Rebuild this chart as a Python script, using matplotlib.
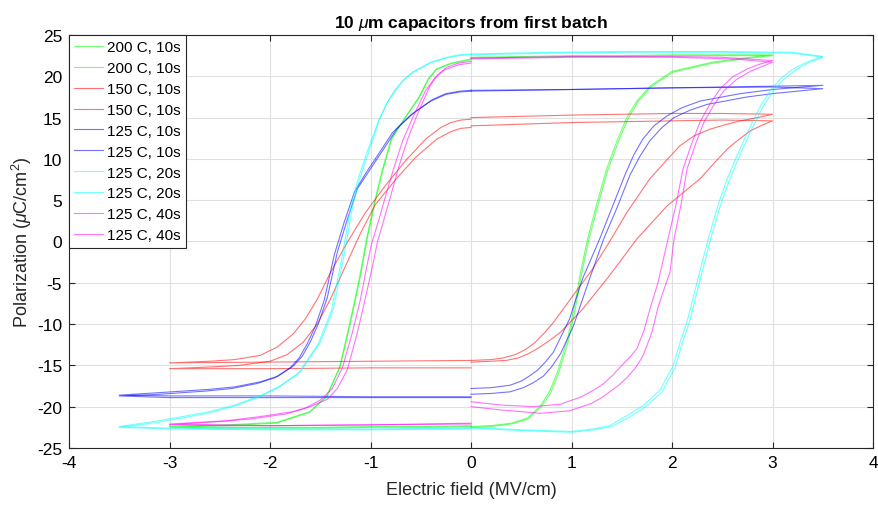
import numpy as np
import matplotlib
matplotlib.use("Agg")
import matplotlib.pyplot as plt

nan = np.nan

# each loop: positive half (0 -> Emax -> 0), nan, negative half (0 -> -Emax -> 0)
# 200 C, 10s
g1_E = [0, 0.2, 0.4, 0.56, 0.69, 0.78, 0.86, 0.96, 1.03, 1.09, 1.16, 1.25, 1.35, 1.46, 1.55, 1.65, 1.78, 2.0, 2.4, 2.7, 3.0,
        2.5, 2.0, 1.5, 1.0, 0.5, 0, nan,
        0, -0.2, -0.34, -0.42, -0.51, -0.71, -0.79, -0.88, -0.95, -1.03, -1.10, -1.17, -1.24, -1.30, -1.43, -1.6, -1.93, -2.43, -3.0,
        -2.5, -2.0, -1.5, -1.0, -0.5, 0]
g1_P = [-22.4, -22.3, -22.0, -21.4, -19.9, -18.2, -15.8, -11.8, -7.8, -3.7, 0.3, 4.5, 8.8, 12.4, 15.0, 17.0, 18.8, 20.6, 21.7, 22.2, 22.6,
        22.6, 22.6, 22.5, 22.5, 22.4, 22.3, nan,
        22.1, 21.6, 20.9, 19.7, 17.6, 14.0, 12.4, 8.5, 5.0, 0.5, -4.2, -8.2, -12.0, -15.1, -18.7, -20.6, -21.9, -22.2, -22.4,
        -22.5, -22.5, -22.5, -22.4, -22.4, -22.3]
g2_E = [0, 0.2, 0.4, 0.57, 0.70, 0.79, 0.87, 0.97, 1.04, 1.10, 1.17, 1.26, 1.36, 1.47, 1.56, 1.66, 1.79, 2.01, 2.41, 2.71, 3.0,
        2.5, 2.0, 1.5, 1.0, 0.5, 0, nan,
        0, -0.2, -0.35, -0.43, -0.52, -0.72, -0.80, -0.89, -0.96, -1.04, -1.11, -1.18, -1.25, -1.31, -1.44, -1.61, -1.94, -2.44, -3.0,
        -2.5, -2.0, -1.5, -1.0, -0.5, 0]
g2_P = [-22.5, -22.4, -22.1, -21.5, -20.0, -18.4, -16.0, -12.0, -8.0, -3.9, 0.1, 4.3, 8.6, 12.2, 14.8, 16.9, 18.7, 20.5, 21.6, 22.1, 22.5,
        22.5, 22.5, 22.4, 22.4, 22.3, 22.2, nan,
        22.0, 21.5, 20.8, 19.6, 17.4, 13.8, 12.2, 8.3, 4.8, 0.3, -4.4, -8.4, -12.2, -15.3, -18.8, -20.7, -22.0, -22.3, -22.5,
        -22.6, -22.6, -22.6, -22.5, -22.5, -22.4]

# 150 C, 10s
r1_E = [0, 0.2, 0.32, 0.44, 0.54, 0.63, 0.72, 0.82, 1.0, 1.2, 1.38, 1.55, 1.78, 1.95, 2.08, 2.22, 2.38, 2.52, 2.68, 2.85, 3.0,
        2.5, 2.0, 1.0, 0, nan,
        0, -0.1, -0.2, -0.3, -0.45, -0.65, -0.85, -1.05, -1.25, -1.4, -1.53, -1.65, -1.77, -1.93, -2.10, -2.35, -2.60, -3.0,
        -2.0, -1.0, 0]
r1_P = [-14.4, -14.3, -14.1, -13.7, -13.1, -12.3, -11.2, -9.8, -6.8, -3.5, 0.0, 3.5, 7.6, 9.9, 11.6, 12.8, 13.6, 14.1, 14.6, 15.0, 15.4,
        15.5, 15.5, 15.3, 15.0, nan,
        14.8, 14.7, 14.4, 13.8, 12.4, 9.8, 6.8, 3.5, -0.5, -3.8, -7.0, -9.4, -11.2, -12.8, -13.8, -14.3, -14.5, -14.7,
        -14.6, -14.5, -14.4]
r2_E = [0, 0.2, 0.35, 0.47, 0.57, 0.67, 0.78, 0.89, 1.11, 1.38, 1.65, 1.95, 2.12, 2.28, 2.42, 2.55, 2.67, 2.78, 2.9, 3.0,
        2.5, 2.0, 1.0, 0, nan,
        0, -0.1, -0.2, -0.34, -0.55, -0.75, -0.95, -1.1, -1.25, -1.40, -1.53, -1.67, -1.83, -2.0, -2.3, -2.6, -3.0,
        -2.0, -1.0, 0]
r2_P = [-14.6, -14.5, -14.4, -14.1, -13.6, -12.9, -12.0, -11.0, -8.2, -4.1, 0.3, 4.3, 6.0, 7.6, 9.5, 11.2, 12.4, 13.4, 14.1, 14.6,
        14.7, 14.6, 14.4, 14.0, nan,
        13.8, 13.7, 13.3, 12.4, 10.2, 7.5, 4.5, 1.0, -3.0, -7.0, -10.0, -12.2, -13.7, -14.5, -15.0, -15.2, -15.4,
        -15.4, -15.3, -15.3]

# 125 C, 10s
b1_E = [0, 0.2, 0.39, 0.5, 0.58, 0.66, 0.74, 0.82, 0.98, 1.11, 1.28, 1.40, 1.53, 1.62, 1.71, 1.82, 1.95, 2.1, 2.28, 2.68, 3.0, 3.5,
        3.0, 2.0, 1.0, 0, nan,
        0, -0.11, -0.25, -0.38, -0.57, -0.74, -0.88, -1.0, -1.13, -1.23, -1.33, -1.43, -1.52, -1.60, -1.68, -1.77, -1.92, -2.10, -2.35, -2.60, -3.10, -3.5,
        -3.0, -2.0, -1.0, 0]
b1_P = [-17.8, -17.7, -17.4, -16.9, -16.3, -15.6, -14.6, -13.4, -9.4, -4.5, 0.3, 4.0, 8.0, 10.5, 12.4, 14.0, 15.2, 16.2, 17.0, 17.9, 18.4, 18.9,
        18.8, 18.6, 18.4, 18.3, nan,
        18.3, 18.2, 17.9, 17.2, 15.6, 13.6, 11.0, 8.8, 6.4, 2.7, -1.3, -6.8, -10.0, -12.2, -13.9, -15.1, -16.3, -17.0, -17.6, -17.9, -18.3, -18.6,
        -18.7, -18.7, -18.8, -18.8]
b2_E = [0, 0.2, 0.39, 0.52, 0.62, 0.72, 0.80, 0.89, 1.02, 1.18, 1.32, 1.45, 1.58, 1.68, 1.78, 1.90, 2.02, 2.18, 2.35, 2.75, 3.0, 3.5,
        3.0, 2.0, 1.0, 0, nan,
        0, -0.11, -0.25, -0.40, -0.60, -0.78, -0.92, -1.04, -1.16, -1.26, -1.36, -1.46, -1.55, -1.63, -1.71, -1.80, -1.95, -2.13, -2.38, -2.63, -3.10, -3.5,
        -3.0, -2.0, -1.0, 0]
b2_P = [-18.5, -18.4, -18.2, -17.7, -17.1, -16.3, -15.2, -13.6, -10.2, -4.5, 0.3, 4.0, 8.0, 10.3, 12.2, 13.8, 15.0, 15.9, 16.6, 17.5, 17.9, 18.5,
        18.7, 18.6, 18.4, 18.2, nan,
        18.2, 18.1, 17.8, 17.0, 15.3, 13.2, 10.6, 8.4, 6.0, 2.4, -1.6, -7.1, -10.3, -12.4, -14.1, -15.3, -16.5, -17.2, -17.8, -18.1, -18.5, -18.7,
        -18.9, -18.9, -18.9, -18.9]

# 125 C, 20s
c1_E = [0, 0.5, 1.0, 1.21, 1.38, 1.55, 1.72, 1.88, 2.01, 2.08, 2.15, 2.25, 2.36, 2.46, 2.55, 2.65, 2.75, 2.88, 2.98, 3.08, 3.17, 3.27, 3.38, 3.5,
        3.2, 2.5, 1.5, 0.8, 0, nan,
        0, -0.12, -0.24, -0.4, -0.58, -0.67, -0.75, -0.83, -0.91, -1.0, -1.10, -1.17, -1.27, -1.37, -1.50, -1.70, -1.90, -2.10, -2.35, -2.60, -3.10, -3.5,
        -3.0, -2.0, -1.0, 0]
c1_P = [-22.5, -22.8, -23.0, -22.7, -22.3, -21.1, -19.8, -18.0, -15.1, -12.2, -9.7, -4.9, 0.3, 4.5, 7.6, 10.5, 13.2, 16.4, 18.3, 19.7, 20.6, 21.3, 21.9, 22.4,
        22.9, 23.0, 23.0, 22.9, 22.7, nan,
        22.7, 22.6, 22.3, 21.7, 20.5, 19.6, 18.4, 16.9, 14.8, 11.5, 7.9, 4.8, -2.1, -8.2, -12.2, -15.8, -17.5, -18.7, -19.8, -20.6, -21.7, -22.4,
        -22.6, -22.7, -22.7, -22.6]
c2_E = [0, 0.5, 1.0, 1.23, 1.40, 1.57, 1.74, 1.90, 2.03, 2.10, 2.17, 2.27, 2.38, 2.48, 2.57, 2.67, 2.77, 2.90, 3.00, 3.10, 3.19, 3.29, 3.39, 3.5,
        3.2, 2.5, 1.5, 0.8, 0, nan,
        0, -0.12, -0.25, -0.41, -0.59, -0.68, -0.76, -0.84, -0.92, -1.02, -1.12, -1.19, -1.29, -1.39, -1.52, -1.72, -1.92, -2.12, -2.37, -2.62, -3.12, -3.5,
        -3.0, -2.0, -1.0, 0]
c2_P = [-22.6, -22.9, -23.1, -22.8, -22.4, -21.3, -20.0, -18.2, -15.3, -12.4, -9.9, -5.1, 0.1, 4.3, 7.4, 10.3, 13.0, 16.2, 18.1, 19.5, 20.4, 21.2, 21.8, 22.3,
        22.8, 22.9, 22.9, 22.8, 22.6, nan,
        22.6, 22.5, 22.2, 21.6, 20.4, 19.4, 18.2, 16.7, 14.6, 11.3, 7.7, 4.6, -2.3, -8.4, -12.4, -16.0, -17.7, -18.9, -20.0, -20.8, -21.9, -22.5,
        -22.7, -22.8, -22.8, -22.7]

# 125 C, 40s
m1_E = [0, 0.3, 0.62, 0.89, 1.1, 1.22, 1.31, 1.41, 1.5, 1.58, 1.65, 1.72, 1.78, 1.86, 1.96, 2.04, 2.11, 2.2, 2.28, 2.38, 2.48, 2.6, 2.75, 2.88, 3.0,
        2.5, 2.0, 1.0, 0, nan,
        0, -0.12, -0.24, -0.33, -0.41, -0.54, -0.63, -0.72, -0.80, -0.87, -0.93, -0.98, -1.05, -1.13, -1.23, -1.33, -1.43, -1.6, -1.77, -2.1, -2.43, -3.0,
        -2.5, -2.0, -1.0, 0]
m1_P = [-19.4, -19.8, -20.0, -19.7, -18.8, -18.0, -17.3, -16.2, -15.0, -14.0, -13.0, -10.8, -8.2, -5.0, 0.3, 4.5, 8.8, 12.0, 14.5, 16.7, 18.5, 19.9, 20.9, 21.5, 21.9,
        22.3, 22.4, 22.4, 22.2, nan,
        21.8, 21.6, 21.1, 20.2, 18.8, 15.2, 12.4, 9.0, 5.5, 2.5, 0.0, -3.0, -6.8, -11.0, -15.5, -17.8, -19.1, -20.0, -20.6, -21.2, -21.7, -22.1,
        -22.2, -22.3, -22.2, -22.0]
m2_E = [0, 0.3, 0.69, 0.98, 1.2, 1.30, 1.38, 1.47, 1.55, 1.63, 1.71, 1.80, 1.86, 1.92, 1.98, 2.02, 2.09, 2.15, 2.24, 2.32, 2.42, 2.52, 2.64, 2.78, 2.9, 3.0,
        2.6, 2.0, 1.0, 0, nan,
        0, -0.12, -0.26, -0.36, -0.45, -0.58, -0.68, -0.77, -0.85, -0.92, -0.99, -1.04, -1.10, -1.18, -1.28, -1.38, -1.50, -1.65, -1.85, -2.2, -2.5, -3.0,
        -2.5, -2.0, -1.0, 0]
m2_P = [-20.0, -20.4, -20.8, -20.5, -19.6, -18.9, -18.2, -17.4, -16.5, -15.4, -13.9, -11.0, -8.0, -5.8, -3.7, 0.3, 4.5, 8.8, 12.0, 14.5, 16.6, 18.3, 19.6, 20.6, 21.2, 21.7,
        22.1, 22.3, 22.3, 22.1, nan,
        21.6, 21.4, 20.8, 19.8, 18.3, 15.0, 12.2, 8.8, 5.5, 2.5, -0.3, -3.2, -7.0, -11.0, -15.3, -17.8, -19.2, -20.2, -20.9, -21.5, -21.8, -22.2,
        -22.3, -22.3, -22.2, -22.1]

curves = [
    (g1_E, g1_P, (0, 1, 0), "200 C, 10s"),
    (g2_E, g2_P, (0, 1, 0), "200 C, 10s"),
    (r1_E, r1_P, (1, 0, 0), "150 C, 10s"),
    (r2_E, r2_P, (1, 0, 0), "150 C, 10s"),
    (b1_E, b1_P, (0, 0, 1), "125 C, 10s"),
    (b2_E, b2_P, (0, 0, 1), "125 C, 10s"),
    (c1_E, c1_P, (0, 1, 1), "125 C, 20s"),
    (c2_E, c2_P, (0, 1, 1), "125 C, 20s"),
    (m1_E, m1_P, (1, 0, 1), "125 C, 40s"),
    (m2_E, m2_P, (1, 0, 1), "125 C, 40s"),
]

plt.rcParams['font.family'] = ['Liberation Sans', 'DejaVu Sans']
plt.rcParams['axes.unicode_minus'] = False
plt.rcParams['mathtext.fontset'] = 'custom'
plt.rcParams['mathtext.it'] = 'Liberation Sans:italic'
plt.rcParams['mathtext.rm'] = 'Liberation Sans'

dark = (0.15, 0.15, 0.15)

fig = plt.figure(figsize=(8.79, 5.06), dpi=100)
ax = fig.add_axes([0.0785, 0.1127, 0.9147, 0.8162])

for E, P, col, lab in curves:
    ax.plot(np.array(E, dtype=float), np.array(P, dtype=float), color=col, alpha=0.55, lw=0.8, label=lab)

ax.set_xlim(-4, 4)
ax.set_ylim(-25, 25)
ax.set_xticks(np.arange(-4, 5, 1))
ax.set_yticks(np.arange(-25, 26, 5))
ax.grid(True, color=(0.88, 0.88, 0.88), lw=0.8)
ax.set_axisbelow(True)
ax.tick_params(direction='in', top=True, right=True, labelsize=12.5, length=4, color=dark, pad=5)
for s in ax.spines.values():
    s.set_color(dark)
    s.set_linewidth(0.8)

ax.set_xlabel('Electric field (MV/cm)', fontsize=13, color=dark, labelpad=8)
ax.set_ylabel(r'Polarization ($\mu$C/cm$^2$)', fontsize=13, color=dark, labelpad=2)
ax.set_title(r'10 $\mu$m capacitors from first batch', fontsize=12.5, fontweight='bold', pad=6)

leg = ax.legend(loc='upper left', fontsize=11, borderaxespad=0, fancybox=False, framealpha=1,
                edgecolor=dark, handlelength=1.9, labelspacing=0.45, borderpad=0.35,
                handletextpad=0.25)
leg.get_frame().set_linewidth(0.8)

fig.savefig('out.png', dpi=100)
